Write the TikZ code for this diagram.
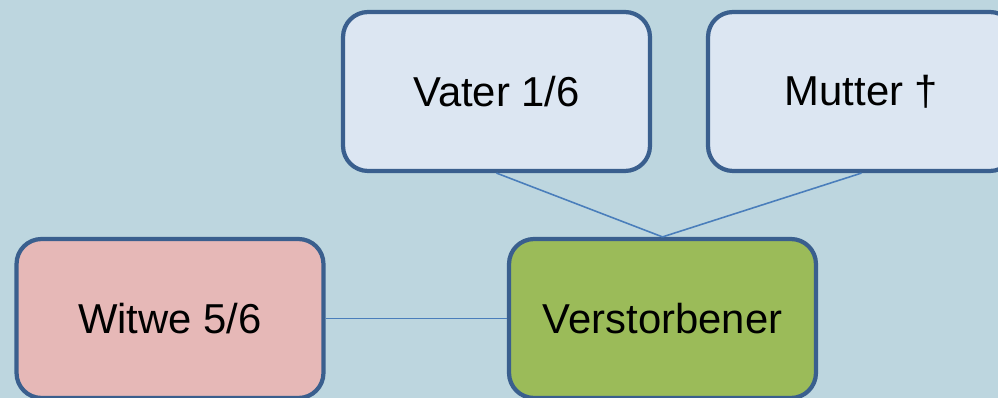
\documentclass[tikz,border=0pt]{standalone}
\usepackage{fontspec}
\setmainfont{Liberation Sans}
\usetikzlibrary{positioning}
\usepackage{xcolor}

\definecolor{bgblue}{HTML}{BDD6DF}
\definecolor{boxline}{HTML}{3A5F8E}
\definecolor{linkblue}{HTML}{4A7EBB}
\definecolor{parentfill}{HTML}{DCE6F2}
\definecolor{widowfill}{HTML}{E6B8B7}
\definecolor{deadfill}{HTML}{9BBB59}

\tikzset{
  heir/.style={draw=boxline, line width=2.4pt, rounded corners=0.5cm,
    minimum width=6.14cm, minimum height=3.18cm,
    font=\fontsize{23.8}{28}\selectfont},
  link/.style={draw=linkblue, line width=0.9pt}
}

\begin{document}
\begin{tikzpicture}[x=0.02cm, y=-0.02cm]
  % Background
  \useasboundingbox (0,0) rectangle (998,398);
  \fill[bgblue] (0,0) rectangle (998,398);
  \clip (0,0) rectangle (998,398);

  % Persons
  \node[heir, fill=parentfill] (vater) at (496.5,91.5) {Vater 1/6};
  \node[heir, fill=parentfill] (mutter) at (861.5,91.5) {Mutter †};
  \node[heir, fill=widowfill] (witwe) at (170,318.5) {Witwe 5/6};
  \node[heir, fill=deadfill] (erblasser) at (662.5,318.5) {Verstorbener};

  % Links
  \draw[link] (vater.south) -- (erblasser.north);
  \draw[link] (mutter.south) -- (erblasser.north);
  \draw[link] (witwe.east) -- (erblasser.west);
\end{tikzpicture}
\end{document}
